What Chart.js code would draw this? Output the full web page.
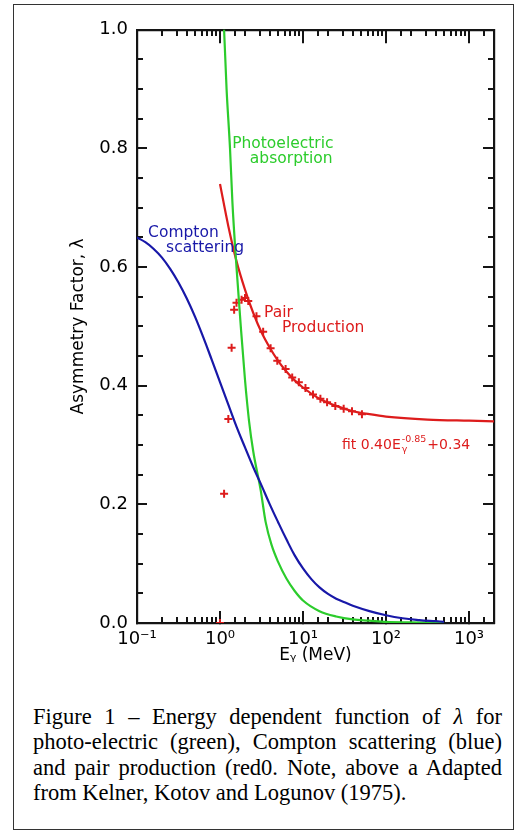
<!DOCTYPE html>
<html><head><meta charset="utf-8">
<script src="https://cdn.jsdelivr.net/npm/chart.js@4.4.0/dist/chart.umd.min.js"></script>
<style>
html,body{margin:0;padding:0;background:#fff;width:529px;height:833px;overflow:hidden;}
#frame{position:absolute;left:13px;top:4px;width:501px;height:826px;border:1.5px solid #333;box-sizing:border-box;}
#c{position:absolute;left:0;top:0;}
#cap{position:absolute;left:33px;top:704px;width:469px;font-family:"Liberation Serif","Times New Roman",serif;font-size:22.5px;line-height:25.3px;text-align:justify;color:#000;}
#cap span{white-space:nowrap;}
</style></head><body>
<div id="frame"></div>
<canvas id="c" width="529" height="700"></canvas>
<div id="cap">Figure 1 – Energy dependent function of <i>λ</i> for <span>photo-electric</span> (green), Compton scattering (blue) and pair production (red0. Note, above a Adapted from Kelner, Kotov and Logunov (1975).</div>
<script>
// ---- data ----
const comptonE = [0.1,0.126,0.158,0.2,0.251,0.316,0.398,0.501,0.631,0.794,1,1.26,1.58,2.0,2.51,3.16,3.98,5.01,6.31,7.94,10,12.6,15.8,20,25.1,31.6,39.8,63.1,100,158,251,398,500];
const comptonL = [0.650,0.642,0.631,0.616,0.597,0.574,0.547,0.516,0.481,0.444,0.406,0.368,0.331,0.296,0.263,0.232,0.200,0.170,0.141,0.114,0.092,0.074,0.060,0.049,0.041,0.035,0.029,0.020,0.013,0.008,0.005,0.003,0.002];

const photoE = [1.07,1.12,1.20,1.32,1.41,1.58,1.78,2.0,2.24,2.51,3.09,3.55,4.17,5.01,6.31,7.94,10,15.8,25.1,39.8,63.1,100,200,500];
const photoL = [1.05,1.00,0.90,0.80,0.71,0.60,0.50,0.41,0.34,0.29,0.224,0.170,0.132,0.103,0.075,0.054,0.038,0.020,0.011,0.006,0.004,0.002,0.001,0.0];

const fitE = [1.0,1.26,1.58,2.0,2.51,3.16,3.98,5.01,6.31,7.94,10,15.8,25.1,39.8,63.1,100,316,1000,2000];
const fitL = [0.740,0.669,0.610,0.562,0.523,0.490,0.464,0.442,0.424,0.409,0.397,0.378,0.366,0.357,0.352,0.348,0.343,0.341,0.340];

const pairE = [1.00,1.12,1.26,1.38,1.48,1.58,1.82,2.0,2.19,2.75,3.31,4.07,4.9,6.17,7.41,8.91,10.7,13.2,16.2,19.5,24.5,30.9,38.9,51.3];
const pairL = [0.0,0.218,0.344,0.464,0.528,0.540,0.545,0.548,0.543,0.517,0.491,0.463,0.442,0.428,0.414,0.406,0.396,0.385,0.378,0.372,0.366,0.361,0.357,0.352];

const xTickVals = [0.1,1,10,100,1000];
const xTickLabels = ['10\u207B\u00B9','10\u2070','10\u00B9','10\u00B2','10\u00B3'];
const yMajorStep = 0.2, yMinorStep = 0.05;
const X_MIN=0.1, X_MAX=2000, Y_MIN=0, Y_MAX=1;

const GREEN='#2ccc2c', BLUE='#1818a8', RED='#dd1c1c', AXIS='#141414';

const pts = (xs,ys)=>xs.map((v,i)=>({x:v,y:ys[i]}));

const labels = [
  {text:'Photoelectric', x:1.40, y:0.808, color:GREEN},
  {text:'absorption', x:2.29, y:0.782, color:GREEN},
  {text:'Compton', x:0.136, y:0.657, color:BLUE},
  {text:'scattering', x:0.224, y:0.632, color:BLUE},
  {text:'Pair', x:3.39, y:0.523, color:RED},
  {text:'Production', x:5.58, y:0.497, color:RED}
];

const isDecade = v => Math.abs(Math.log10(v) - Math.round(Math.log10(v))) < 1e-6;
const isYMajor = v => Math.abs(v/yMajorStep - Math.round(v/yMajorStep)) < 1e-6;
const tc = (ok) => ok ? AXIS : 'rgba(255,255,255,0)';

function drawLabels(chart){
  const ctx=chart.ctx, x=chart.scales.x, y=chart.scales.y;
  ctx.save();
  ctx.font='15.5px "DejaVu Sans"';
  ctx.textBaseline='middle'; ctx.textAlign='left';
  labels.forEach(l=>{ctx.fillStyle=l.color; ctx.fillText(l.text, x.getPixelForValue(l.x), y.getPixelForValue(l.y));});
  let px=x.getPixelForValue(29.5), py=y.getPixelForValue(0.294);
  ctx.fillStyle=RED; ctx.textBaseline='alphabetic';
  ctx.font='14px "DejaVu Sans"';
  ctx.fillText('fit 0.40E',px,py); px+=ctx.measureText('fit 0.40E').width+1;
  ctx.font='9.5px "DejaVu Sans"';
  ctx.fillText('\u03B3',px,py+3);
  ctx.fillText('-0.85',px,py-7);
  px+=ctx.measureText('-0.85').width+1;
  ctx.font='14px "DejaVu Sans"';
  ctx.fillText('+0.34',px,py);
  ctx.restore();
}
const overlay = { id:'overlay', afterDatasetsDraw(chart){ drawLabels(chart); } };

function xAux(pos, len, majorOnly, border){
  return {type:'logarithmic',min:X_MIN,max:X_MAX,position:pos,display:true,
    ticks:{display:false,autoSkip:false},
    grid:{display:true,drawOnChartArea:false,drawTicks:true,tickLength:len,color:AXIS,lineWidth:2,tickWidth:2,
      tickColor:c=>tc(!majorOnly || (c.tick && isDecade(c.tick.value)))},
    border:{display:border,color:AXIS,width:2.2}};
}
function yAux(pos, len, majorOnly, border){
  return {min:Y_MIN,max:Y_MAX,position:pos,display:true,
    ticks:{display:false,stepSize:yMinorStep,autoSkip:false},
    grid:{display:true,drawOnChartArea:false,drawTicks:true,tickLength:len,color:AXIS,lineWidth:2,tickWidth:2,
      tickColor:c=>tc(!majorOnly || (c.tick && isYMajor(c.tick.value)))},
    border:{display:border,color:AXIS,width:2.2}};
}

new Chart(document.getElementById('c'),{
  type:'line',
  data:{datasets:[
    {data:pts(comptonE,comptonL),borderColor:BLUE,borderWidth:2.2,pointRadius:0,tension:0.4},
    {data:pts(photoE,photoL),borderColor:GREEN,borderWidth:2.2,pointRadius:0,cubicInterpolationMode:'monotone'},
    {data:pts(fitE,fitL),borderColor:RED,borderWidth:2.2,pointRadius:0,cubicInterpolationMode:'monotone'},
    {data:pts(pairE,pairL),showLine:false,pointStyle:'cross',pointRadius:4,pointBorderWidth:2,borderColor:RED,pointBorderColor:RED}
  ]},
  options:{
    responsive:false,animation:false,
    layout:{padding:{left:0,top:28,right:35,bottom:27}},
    plugins:{legend:{display:false},tooltip:{enabled:false}},
    scales:{
      x:{type:'logarithmic',min:X_MIN,max:X_MAX,position:'bottom',
        grid:{display:true,drawOnChartArea:false,drawTicks:true,tickLength:-12,color:AXIS,lineWidth:2,tickWidth:2,
          tickColor:c=>tc(c.tick && isDecade(c.tick.value))},
        border:{display:true,color:AXIS,width:2.2},
        afterFit:s=>{s.height=50;},
        ticks:{autoSkip:false,maxRotation:0,padding:18,color:'#000',font:{family:'DejaVu Sans',size:18},
          callback:(v)=>{const i=xTickVals.findIndex(t=>Math.abs(t-v)<1e-9*Math.max(1,v));return i>=0?xTickLabels[i]:'';}},
        title:{display:true,text:'E\u1D67 (MeV)',color:'#000',font:{family:'DejaVu Sans',size:17},padding:{top:0,bottom:7}}
      },
      y:{min:Y_MIN,max:Y_MAX,position:'left',
        grid:{display:true,drawOnChartArea:false,drawTicks:true,tickLength:-10,color:AXIS,lineWidth:2,tickWidth:2,
          tickColor:c=>tc(c.tick && isYMajor(c.tick.value))},
        border:{display:true,color:AXIS,width:2.2},
        afterFit:s=>{s.width=137;},
        ticks:{stepSize:yMinorStep,autoSkip:false,padding:19,color:'#000',font:{family:'DejaVu Sans',size:18},
          callback:v=>isYMajor(v)?v.toFixed(1):''},
        title:{display:true,text:'Asymmetry Factor, \u03BB',color:'#000',font:{family:'DejaVu Sans',size:17},padding:{top:68,bottom:0}}
      },
      xb2: xAux({y:Y_MIN}, -6, false, false),
      xt1: xAux({y:Y_MAX}, 12, true, true),
      xt2: xAux({y:Y_MAX}, 6, false, false),
      yl2: yAux({x:X_MIN}, -6, false, false),
      yr1: yAux({x:X_MAX}, 10, true, true),
      yr2: yAux({x:X_MAX}, 6, false, false)
    }
  },
  plugins:[overlay]
});
</script>
</body></html>
